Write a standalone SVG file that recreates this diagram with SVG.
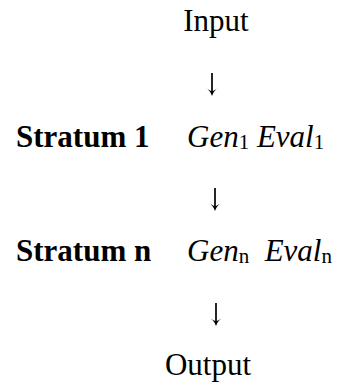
<svg xmlns="http://www.w3.org/2000/svg" width="338" height="387" viewBox="0 0 338 387">
  <style>
    text { font-family: "Liberation Serif", "Times New Roman", serif; fill: #000; white-space: pre; }
    .lbl { font-size: 31px; }
    .b { font-weight: bold; }
    .i { font-style: italic; }
    .sub { font-style: normal; font-size: 21px; }
    .shaft { stroke: #000; stroke-width: 1.7; fill: none; }
    .head { fill: #000; }
  </style>
  <defs>
    <!-- downward arrow: thin shaft with a curved, filled head -->
    <g id="down">
      <line class="shaft" x1="0" y1="0" x2="0" y2="20"/>
      <path class="head" d="M-6.5,15 Q-2,17 0,23 Q2,17 6.5,15 Q2,17.5 0,18.5 Q-2,17.5 -6.5,15 Z"/>
    </g>
  </defs>
  <rect width="338" height="387" fill="#fff"/>

  <g id="input"><text class="lbl" x="216" y="31" text-anchor="middle">Input</text></g>

  <g id="stratum-1">
    <text class="lbl b" x="16" y="147">Stratum 1</text>
    <text class="lbl i" x="187" y="147">Gen<tspan class="sub" dy="2">1</tspan><tspan dy="-2"> Eval</tspan><tspan class="sub" dy="2">1</tspan></text>
  </g>

  <g id="stratum-n">
    <text class="lbl b" x="16" y="261">Stratum n</text>
    <text class="lbl i" x="187" y="261">Gen<tspan class="sub" dy="2">n</tspan><tspan dy="-2">  Eval</tspan><tspan class="sub" dy="2">n</tspan></text>
  </g>

  <g id="output"><text class="lbl" x="208" y="375" text-anchor="middle">Output</text></g>

  <g id="connectors">
    <use href="#down" x="212" y="73"/>
    <use href="#down" x="215" y="188"/>
    <use href="#down" x="216" y="303"/>
  </g>
</svg>
